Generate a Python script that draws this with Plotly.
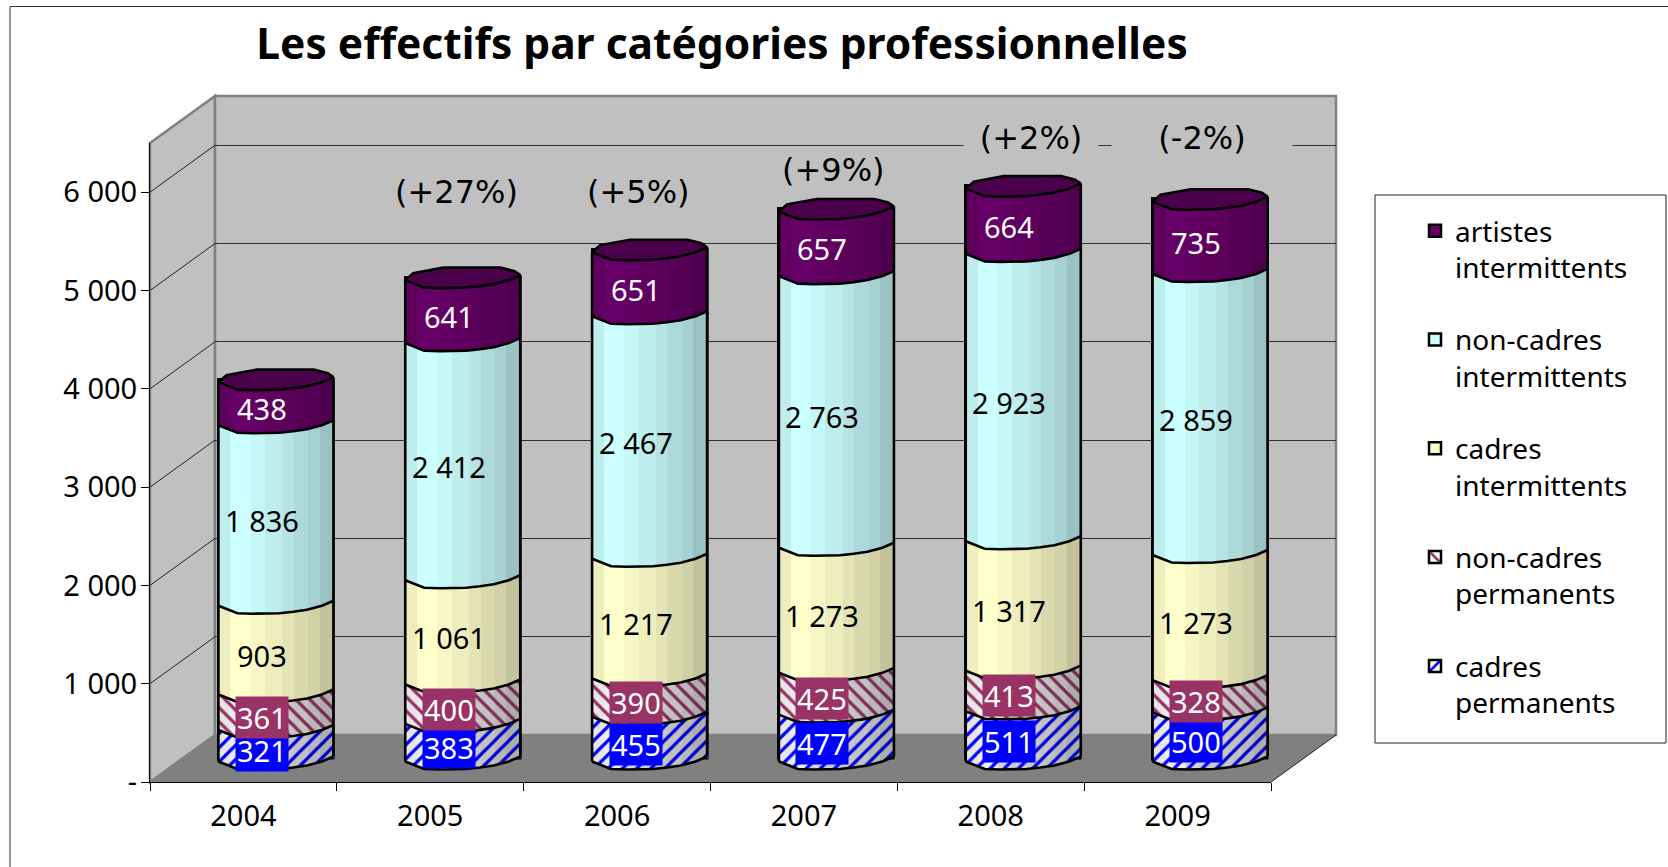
import numpy as np
import plotly.graph_objects as go

W, H = 1668, 867
years = [2004, 2005, 2006, 2007, 2008, 2009]
cadres_permanents = [321, 383, 455, 477, 511, 500]
non_cadres_permanents = [361, 400, 390, 425, 413, 328]
cadres_intermittents = [903, 1061, 1217, 1273, 1317, 1273]
non_cadres_intermittents = [1836, 2412, 2467, 2763, 2923, 2859]
artistes_intermittents = [438, 641, 651, 657, 664, 735]
evolution = ["", "(+27%)", "(+5%)", "(+9%)", "(+2%)", "(-2%)"]
evolution_level = [None, 5765, 5765, 5990, 6310, 6310]
evolution_box = [None, None, None, None, 132, 178]
evolution_shift = [0, -6, -11, -3, 8, -8]
y_ticks = [0, 1000, 2000, 3000, 4000, 5000, 6000]
y_tick_text = ["-", "1 000", "2 000", "3 000", "4 000", "5 000", "6 000"]

series = [
    dict(name="cadres<br>permanents", v=cadres_permanents, bg=(255, 255, 255), fg=(0, 0, 255), shape="/", box="#0000FF", tc="white"),
    dict(name="non-cadres<br>permanents", v=non_cadres_permanents, bg=(255, 255, 255), fg=(153, 51, 102), shape="\\", box="#993366", tc="white"),
    dict(name="cadres<br>intermittents", v=cadres_intermittents, bg=(255, 255, 204), fg=None, shape="", box=None, tc="black"),
    dict(name="non-cadres<br>intermittents", v=non_cadres_intermittents, bg=(204, 255, 255), fg=None, shape="", box=None, tc="black"),
    dict(name="artistes<br>intermittents", v=artistes_intermittents, bg=(102, 0, 102), fg=None, shape="", box=None, tc="white"),
]

FONT = "Noto Sans"
FS = 29
PX = 0.0983            # pixels per unit of value
BAR_W = 115 / 186.8    # cylinder width, in category units
X_FRONT = (150, 1271)
Y_FRONT = (782, 143)
DX, DY = 65, 47        # depth of the box


def px(x):
    return x / W


def py(y):
    return 1 - y / H


def rgb(c, k=1.0):
    return "rgb(%d,%d,%d)" % tuple(int(round(a * k)) for a in c)


# cylinder outline, as offsets in pixels (downwards) against the plane of a value
fr_u = [0, .165, .30, .53, .65, .77, .90, 1]
fr_off = [3, 10.5, 11, 10.5, 9, 7, 3, -2]
bk_u = [0, .07, .33, .83, .95, 1]
bk_off = [3, -4, -9.5, -9.5, -6, -2]
facet_edges = [0, .10, .27, .395, .54, .66, .78, .885, 1.0]
facet_k = [.93, 1.0, .97, .93, .89, .85, .82, .76]
hatch_k = [.90, .93, .84, .80, .78, .76, .72, .68]
N_BANDS = 40

fig = go.Figure()

# back wall subplot (grid only)
fig.add_trace(go.Scatter(x=[0], y=[None], xaxis="x", yaxis="y", showlegend=False, hoverinfo="skip"))

cum = np.zeros(len(years))
bases = []
for s in series:
    bases.append(cum.copy())
    cum = cum + np.array(s["v"])
totals = cum


def pattern_for(s, k=1.0):
    if not s["shape"]:
        return None
    return dict(shape=s["shape"], fgcolor=rgb(s["fg"], min(1, k + .1)), bgcolor=rgb(s["bg"], k), size=10, solidity=0.32, fillmode="replace")


# full bars, real stacked values (also carry the legend)
for s, b in list(zip(series, bases))[::-1]:
    m = dict(color=rgb(s["bg"]), line=dict(color="black", width=2.5))
    p = pattern_for(s)
    if p:
        m["pattern"] = p
    fig.add_trace(go.Bar(x=years, y=s["v"], base=list(b), width=BAR_W, name=s["name"], marker=m,
                         legendgroup=s["name"], xaxis="x2", yaxis="y2", hoverinfo="skip"))

# shaded facets following the curve of the cylinder
band_u = (np.arange(N_BANDS) + .5) / N_BANDS
band_off = np.interp(band_u, fr_u, fr_off)
band_idx = [min(np.searchsorted(facet_edges, u) - 1, 7) for u in band_u]
for s, b in zip(series, bases):
    for j in range(N_BANDS):
        k = hatch_k[band_idx[j]] if s["shape"] else facet_k[band_idx[j]]
        m = dict(color=rgb(s["bg"], k), line=dict(width=0))
        p = pattern_for(s, k)
        if p:
            m["pattern"] = p
        fig.add_trace(go.Bar(x=years, y=s["v"], base=list(b - band_off[j] / PX),
                             offset=-BAR_W / 2 + j * BAR_W / N_BANDS, width=BAR_W / N_BANDS * 1.02,
                             marker=m, showlegend=False, xaxis="x2", yaxis="y2", hoverinfo="skip"))

# black outlines
lx, ly = [], []
for i, yr in enumerate(years):
    xs = [yr - BAR_W / 2 + u * BAR_W for u in fr_u]
    for lev in [b[i] for b in bases]:
        lx += xs + [None]
        ly += [lev - o / PX for o in fr_off] + [None]
    lx += [xs[0], xs[0], None, xs[-1], xs[-1], None]
    ly += [-fr_off[0] / PX, totals[i] - fr_off[0] / PX, None, -fr_off[-1] / PX, totals[i] - fr_off[-1] / PX, None]
fig.add_trace(go.Scatter(x=lx, y=ly, mode="lines", line=dict(color="black", width=2.6), xaxis="x2", yaxis="y2",
                         showlegend=False, hoverinfo="skip", cliponaxis=False))

# top of the cylinders
cx, cy = [], []
for i, yr in enumerate(years):
    cx += [yr - BAR_W / 2 + u * BAR_W for u in fr_u] + [yr - BAR_W / 2 + u * BAR_W for u in bk_u[::-1]] + [None]
    cy += [totals[i] - o / PX for o in fr_off] + [totals[i] - o / PX for o in bk_off[::-1]] + [None]
fig.add_trace(go.Scatter(x=cx, y=cy, mode="lines", fill="toself", fillcolor="rgb(74,0,74)",
                         line=dict(color="black", width=2.6), xaxis="x2", yaxis="y2",
                         showlegend=False, hoverinfo="skip", cliponaxis=False))

# front subplot (axes with the labels)
fig.add_trace(go.Scatter(x=[str(y) for y in years], y=[None] * 6, xaxis="x3", yaxis="y3", showlegend=False, hoverinfo="skip"))

# value labels
ann = []
for s, b in zip(series, bases):
    for i, yr in enumerate(years):
        a = dict(x=yr, y=b[i] + s["v"][i] / 2, xref="x2", yref="y2", text=f"{s['v'][i]:,}".replace(",", " "),
                 showarrow=False, xshift=-14, yshift=-8, font=dict(family=FONT, size=FS, color=s["tc"]),
                 borderpad=1)
        if s["box"]:
            a["bgcolor"] = s["box"]
        ann.append(a)
for i, yr in enumerate(years):
    if evolution[i]:
        a = dict(x=yr, y=evolution_level[i], xref="x2", yref="y2", text=evolution[i], showarrow=False,
                 xshift=evolution_shift[i], font=dict(family="DejaVu Sans", size=32, color="black"), bgcolor="#C0C0C0")
        if evolution_box[i]:
            a["width"] = evolution_box[i]
        ann.append(a)

# box of the chart
x0, x1 = X_FRONT
y0, y1 = Y_FRONT
bx0, bx1 = x0 + DX, x1 + DX
by0, by1 = y0 - DY, y1 - DY


def path(points):
    return "M " + " L ".join(f"{px(a):.5f} {py(b):.5f}" for a, b in points) + " Z"


shapes = [
    dict(type="path", xref="paper", yref="paper", layer="below", path=path([(x0, y1), (bx0, by1), (bx0, by0), (x0, y0)]),
         fillcolor="#C0C0C0", line=dict(color="#808080", width=2.5)),
    dict(type="path", xref="paper", yref="paper", layer="below", path=path([(bx0, by1), (bx1, by1), (bx1, by0), (bx0, by0)]),
         fillcolor="#C0C0C0", line=dict(color="#808080", width=2.5)),
    dict(type="path", xref="paper", yref="paper", layer="below", path=path([(x0, y0), (bx0, by0), (bx1, by0), (x1, y0)]),
         fillcolor="#808080", line=dict(color="#808080", width=0)),
    dict(type="line", xref="paper", yref="paper", layer="below", x0=px(x1), y0=py(y0), x1=px(bx1), y1=py(by0),
         line=dict(color="#202020", width=1)),
    # page frame
    dict(type="line", xref="paper", yref="paper", x0=px(10), y0=py(6.5), x1=1, y1=py(6.5), line=dict(color="#303030", width=1)),
    dict(type="line", xref="paper", yref="paper", x0=px(10), y0=py(6.5), x1=px(10), y1=0, line=dict(color="#303030", width=1)),
    # legend box
    dict(type="rect", xref="paper", yref="paper", x0=px(1375), y0=py(195), x1=px(1666), y1=py(743), layer="below",
         fillcolor="white", line=dict(color="#202020", width=1)),
]
for t in y_ticks[1:]:
    fy = y0 - t * PX
    shapes.append(dict(type="line", xref="paper", yref="paper", layer="below", x0=px(x0), y0=py(fy), x1=px(bx0), y1=py(fy - DY),
                       line=dict(color="#202020", width=1)))

fig.update_layout(
    width=W, height=H, autosize=False, margin=dict(l=0, r=0, t=0, b=0, pad=0),
    paper_bgcolor="white", plot_bgcolor="rgba(0,0,0,0)", barmode="overlay", bargap=0,
    font=dict(family=FONT, size=FS, color="black"),
    title=dict(text="<b>Les effectifs par catégories professionnelles</b>", x=722 / W, xanchor="center",
               y=py(44), yanchor="middle", font=dict(family="Noto Sans", size=42.5, color="black")),
    xaxis=dict(domain=[px(bx0), px(bx1)], range=[0, 1], visible=False, automargin=False),
    yaxis=dict(domain=[py(by0), py(by1)], range=[0, 6500], tickvals=y_ticks[1:], showgrid=True, gridcolor="#303030", gridwidth=1,
               zeroline=False, showline=False, ticks="", showticklabels=False, automargin=False),
    xaxis2=dict(domain=[px(x0 + 32.5), px(x1 + 32.5)], range=[2003.5, 2009.5], visible=False, anchor="y2", automargin=False),
    yaxis2=dict(domain=[py(758.5 + 300 * PX), py(758.5 - 6500 * PX)], range=[-300, 6500], visible=False, anchor="x2", automargin=False),
    xaxis3=dict(domain=[px(x0), px(x1)], type="category", categoryorder="array", categoryarray=[str(y) for y in years],
                range=[-.5, 5.5], anchor="y3", showline=True, linecolor="black", linewidth=1, ticks="outside", ticklen=8,
                tickcolor="black", tickson="boundaries", showgrid=False, tickfont=dict(family=FONT, size=FS), automargin=False,
                ticklabelstandoff=8),
    yaxis3=dict(domain=[py(y0), py(y1)], range=[0, 6500], anchor="x3", showline=True, linecolor="black", linewidth=1,
                ticks="outside", ticklen=8, tickcolor="black", tickvals=y_ticks, ticktext=y_tick_text, showgrid=False,
                zeroline=False, tickfont=dict(family=FONT, size=FS), ticklabelstandoff=-2, automargin=False),
    legend=dict(x=px(1415), y=py(206), xanchor="left", yanchor="top", traceorder="grouped", tracegroupgap=33,
                itemwidth=30, bgcolor="rgba(0,0,0,0)", borderwidth=0, font=dict(family=FONT, size=28), valign="top"),
    annotations=ann, shapes=shapes, showlegend=True,
)

fig.write_html("out.html", post_script="document.body.style.margin='0';document.body.style.overflow='hidden';",
               config={"displayModeBar": False})
